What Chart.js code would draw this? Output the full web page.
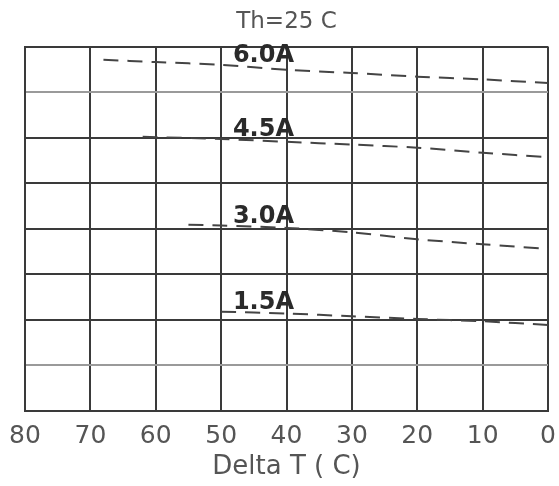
<!DOCTYPE html>
<html lang="en">
<head>
    <meta charset="UTF-8">
    <title>Th=25 C</title>
    <script src="https://cdn.jsdelivr.net/npm/chart.js"></script>
    <style>
        body { margin: 0; background: #ffffff; }
        #wrap { width: 559px; height: 486px; }
    </style>
</head>
<body>
    <div id="wrap"><canvas id="chart" width="559" height="486"></canvas></div>

    <script>
        // values (x = Delta T, y = unlabelled axis, 0..8 grid units)
        const currents = ['6.0A', '4.5A', '3.0A', '1.5A'];
        const deltaT60 = [68, 60, 50, 40, 30, 20, 10, 0];
        const curve60 = [7.71, 7.66, 7.60, 7.49, 7.42, 7.34, 7.28, 7.20];
        const deltaT45 = [62, 50, 40, 30, 20, 10, 0];
        const curve45 = [6.02, 5.97, 5.91, 5.85, 5.78, 5.67, 5.57];
        const deltaT30 = [55, 50, 40, 30, 20, 10, 0];
        const curve30 = [4.09, 4.07, 4.02, 3.92, 3.77, 3.66, 3.56];
        const deltaT15 = [50, 40, 30, 20, 10, 0];
        const curve15 = [2.18, 2.14, 2.08, 2.02, 1.97, 1.89];
        const xTicks = [0, 10, 20, 30, 40, 50, 60, 70, 80];

        const toPoints = (xs, ys) => xs.map((x, i) => ({ x: x, y: ys[i] }));
        const series = [
            toPoints(deltaT60, curve60),
            toPoints(deltaT45, curve45),
            toPoints(deltaT30, curve30),
            toPoints(deltaT15, curve15)
        ];

        const font = "'DejaVu Sans', Verdana, sans-serif";

        // current labels written just above each curve
        const curveLabels = {
            id: 'curveLabels',
            afterDatasetsDraw(chart) {
                const ctx = chart.ctx;
                const xs = chart.scales.x, ys = chart.scales.y;
                ctx.save();
                ctx.font = 'bold 24px ' + font;
                ctx.fillStyle = '#2a2a2a';
                ctx.textAlign = 'left';
                ctx.textBaseline = 'alphabetic';
                chart.data.datasets.forEach((ds) => {
                    const p = ds.data.find(pt => pt.x <= 50);
                    ctx.fillText(ds.label, xs.getPixelForValue(48.2), ys.getPixelForValue(p.y) - 3);
                });
                ctx.restore();
            }
        };

        new Chart(document.getElementById('chart'), {
            type: 'line',
            data: {
                datasets: series.map((pts, i) => ({
                    label: currents[i],
                    data: pts,
                    borderColor: '#444',
                    borderWidth: 2,
                    borderDash: [15, 9],
                    pointRadius: 0,
                    tension: 0.3,
                    fill: false
                }))
            },
            options: {
                responsive: false,
                animation: false,
                layout: { padding: { left: 25, right: 11, top: 0, bottom: 0 } },
                plugins: {
                    legend: { display: false },
                    tooltip: { enabled: false },
                    title: {
                        display: true,
                        text: 'Th=25 C',
                        color: '#555',
                        font: { family: font, size: 23, weight: 'normal', lineHeight: 1.2 },
                        padding: { top: 8, bottom: 11 }
                    }
                },
                scales: {
                    x: {
                        type: 'linear',
                        reverse: true,
                        min: 0,
                        max: 80,
                        afterBuildTicks(scale) { scale.ticks = xTicks.map(v => ({ value: v })); },
                        grid: { color: '#3a3a3a', lineWidth: 2, drawTicks: false, tickLength: 0 },
                        border: { display: true, color: '#3a3a3a', width: 2 },
                        ticks: {
                            color: '#555',
                            padding: 10,
                            maxRotation: 0,
                            autoSkip: false,
                            font: { family: font, size: 25, lineHeight: 1.2 }
                        },
                        title: {
                            display: true,
                            text: 'Delta T ( C)',
                            color: '#555',
                            font: { family: font, size: 26, lineHeight: 0.5 },
                            padding: { top: 0, bottom: 12 }
                        }
                    },
                    y: {
                        min: 0,
                        max: 8,
                        ticks: { display: false, stepSize: 1 },
                        grid: {
                            color: (c) => (c.tick && (c.tick.value === 1 || c.tick.value === 7)) ? '#9a9a9a' : '#3a3a3a',
                            lineWidth: 2,
                            drawTicks: false,
                            tickLength: 0
                        },
                        border: { display: true, color: '#3a3a3a', width: 2 }
                    }
                }
            },
            plugins: [curveLabels]
        });
    </script>
</body>
</html>
